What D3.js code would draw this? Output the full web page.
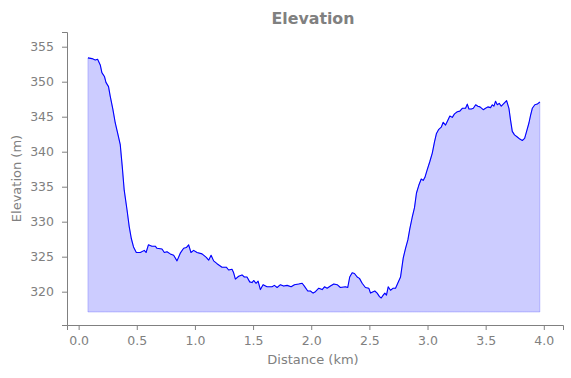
<!DOCTYPE html>
<html>
<head>
<meta charset="utf-8">
<script src="https://cdn.jsdelivr.net/npm/d3@7"></script>
<style>
  body { margin: 0; background: #fff; }
  svg text { font-family: "DejaVu Sans", sans-serif; fill: #808080; }
</style>
</head>
<body>
<svg id="chart" width="571" height="378"></svg>
<script>
// distance along the track (km) and elevation (m)
var distKm = [0.080,0.115,0.143,0.163,0.186,0.200,0.223,0.235,0.257,0.272,0.295,0.315,0.335,0.358,0.375,0.392,0.416,0.435,0.453,0.472,
  0.496,0.530,0.565,0.580,0.600,0.630,0.659,0.674,0.717,0.737,0.760,0.788,0.817,0.846,0.874,0.903,0.926,0.946,0.966,0.989,
  1.018,1.061,1.098,1.118,1.139,1.161,1.190,1.233,1.270,1.290,1.319,1.333,1.348,1.376,1.405,1.425,1.448,1.471,1.491,1.505,
  1.526,1.543,1.563,1.586,1.620,1.663,1.683,1.707,1.735,1.763,1.793,1.827,1.856,1.892,1.922,1.941,1.970,1.993,2.016,2.036,
  2.065,2.094,2.114,2.137,2.165,2.194,2.223,2.251,2.294,2.314,2.331,2.352,2.372,2.395,2.415,2.438,2.466,2.495,2.510,2.533,
  2.547,2.567,2.587,2.602,2.619,2.633,2.647,2.662,2.682,2.705,2.725,2.744,2.768,2.791,2.811,2.831,2.848,2.868,2.888,2.905,
  2.925,2.946,2.963,2.977,2.997,3.020,3.041,3.060,3.077,3.097,3.118,3.135,3.155,3.175,3.192,3.213,3.232,3.256,3.278,3.299,
  3.327,3.342,3.356,3.377,3.394,3.414,3.433,3.451,3.479,3.499,3.519,3.542,3.557,3.571,3.585,3.600,3.617,3.634,3.651,3.680,
  3.700,3.714,3.729,3.748,3.772,3.794,3.815,3.835,3.852,3.872,3.886,3.901,3.923,3.944,3.966];
var elevM = [353.4,353.3,353.1,353.2,352.4,351.3,350.7,349.9,349.3,347.9,346.0,344.1,342.7,341.0,337.9,334.5,331.7,329.3,327.6,326.4,
  325.6,325.6,325.9,325.6,326.7,326.5,326.5,326.2,326.1,325.6,325.7,325.4,325.2,324.4,325.5,326.2,326.3,326.7,325.6,325.9,
  325.6,325.4,324.9,324.5,325.2,324.4,324.0,323.5,323.5,323.1,323.2,322.7,321.8,322.2,322.4,322.1,322.1,321.4,321.3,321.6,
  321.2,321.5,320.3,321.0,320.7,320.7,320.9,320.6,321.0,320.8,320.9,320.7,321.0,321.1,321.2,320.8,320.1,320.1,319.8,320.0,
  320.5,320.3,320.7,320.5,320.8,321.1,321.0,320.6,320.7,320.6,322.1,322.7,322.6,322.1,321.9,321.2,320.6,320.5,319.8,320.0,
  320.1,319.8,319.3,319.1,319.5,319.8,319.5,320.7,320.2,320.5,320.5,321.2,322.1,324.8,326.2,327.4,329.0,330.6,332.0,334.1,
  335.2,336.1,335.9,336.3,337.4,338.6,339.8,341.4,342.6,343.2,343.5,344.2,343.8,344.5,345.1,344.9,345.4,345.7,345.8,346.2,
  346.2,346.8,346.1,346.1,346.2,346.7,346.5,346.4,346.0,346.2,346.4,346.3,346.7,346.5,347.2,346.7,346.9,346.5,346.8,347.3,
  346.2,344.5,342.9,342.4,342.1,341.8,341.6,341.9,342.9,344.1,345.2,346.2,346.7,346.8,347.1];
var fillBase = 317.1;
var xTicks = [0, 0.5, 1, 1.5, 2, 2.5, 3, 3.5, 4];
var yTicks = [320, 325, 330, 335, 340, 345, 350, 355];

var svg = d3.select('#chart');
var grey = '#808080';
var mLeft = 67, mRight = 563, mTop = 32, mBottom = 325;

var x = d3.scaleLinear().domain([-0.1, 4.165]).range([mLeft, mRight]);
var y = d3.scaleLinear().domain([315.24, 357.1]).range([mBottom, mTop]);

var pts = distKm.map(function(d, i) { return [d, elevM[i]]; });

var area = d3.area()
  .x(function(d) { return x(d[0]); })
  .y0(y(fillBase))
  .y1(function(d) { return y(d[1]); });

svg.append('path')
  .attr('d', area(pts))
  .attr('fill', '#0000ff')
  .attr('fill-opacity', 0.2)
  .attr('stroke', '#0000ff')
  .attr('stroke-opacity', 0.2)
  .attr('stroke-width', 1);

var line = d3.line()
  .x(function(d) { return x(d[0]); })
  .y(function(d) { return y(d[1]); });

svg.append('path')
  .attr('d', line(pts))
  .attr('fill', 'none')
  .attr('stroke', '#0000ff')
  .attr('stroke-width', 1.1)
  .attr('stroke-linejoin', 'round');

// axes
var xAxis = d3.axisBottom(x).tickValues(xTicks).tickFormat(d3.format('.1f')).tickSizeOuter(0).tickSize(5).tickPadding(6);
var yAxis = d3.axisLeft(y).tickValues(yTicks).tickFormat(d3.format('d')).tickSizeOuter(0).tickSize(5).tickPadding(8);

var gx = svg.append('g').attr('transform', 'translate(0,' + mBottom + ')').call(xAxis);
var gy = svg.append('g').attr('transform', 'translate(' + mLeft + ',0)').call(yAxis);

[gx, gy].forEach(function(g) {
  g.select('.domain').attr('stroke', grey).attr('stroke-width', 1);
  g.selectAll('.tick line').attr('stroke', grey);
  g.selectAll('.tick text').attr('fill', grey).style('font-size', '12.5px').style('font-family', 'DejaVu Sans');
});

svg.append('text')
  .attr('x', 313).attr('y', 24)
  .attr('text-anchor', 'middle')
  .style('font-size', '15.8px').style('font-weight', 'bold')
  .text('Elevation');

svg.append('text')
  .attr('x', 313).attr('y', 364)
  .attr('text-anchor', 'middle')
  .style('font-size', '13px')
  .text('Distance (km)');

svg.append('text')
  .attr('transform', 'translate(21,' + ((mTop + mBottom) / 2) + ') rotate(-90)')
  .attr('text-anchor', 'middle')
  .style('font-size', '13px')
  .text('Elevation (m)');
</script>
</body>
</html>
